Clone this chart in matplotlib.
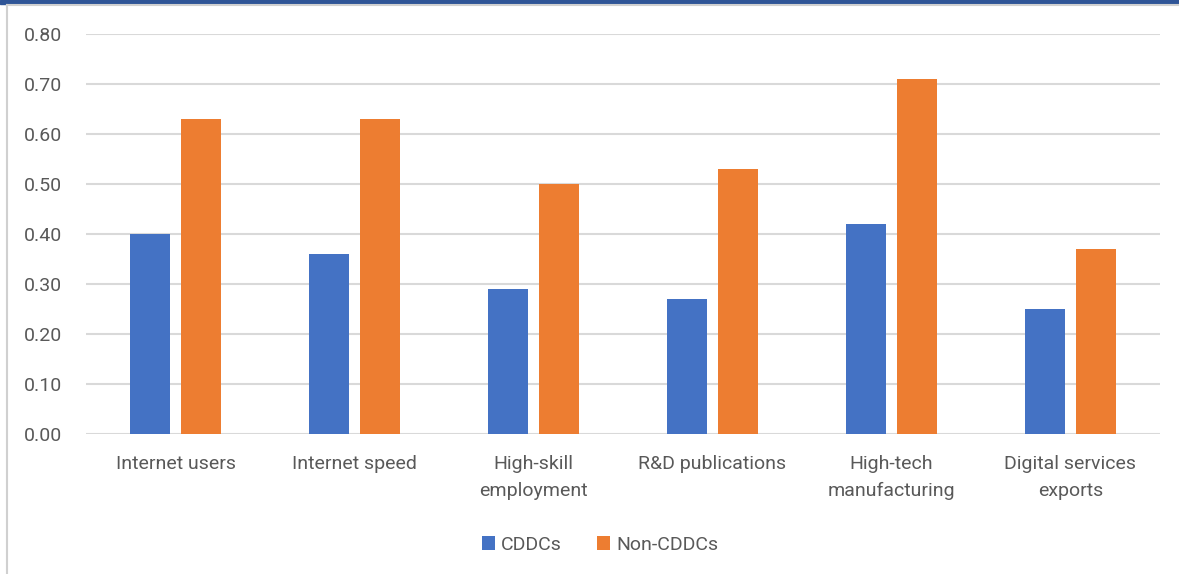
import numpy as np
import matplotlib
matplotlib.use("Agg")
from matplotlib import pyplot as plt
from matplotlib.patches import Rectangle
from matplotlib.lines import Line2D

categories = ["Internet users", "Internet speed", "High-skill\nemployment",
              "R&D publications", "High-tech\nmanufacturing", "Digital services\nexports"]
cddc = [0.40, 0.36, 0.29, 0.27, 0.42, 0.25]
non_cddc = [0.63, 0.63, 0.50, 0.53, 0.71, 0.37]
yticks = [0.0, 0.1, 0.2, 0.3, 0.4, 0.5, 0.6, 0.7, 0.8]

plt.rcParams['font.family'] = ['Roboto', 'DejaVu Sans']
txt = '#595959'

fig = plt.figure(figsize=(11.79, 5.74), dpi=100)
ax = fig.add_axes([86/1179, 140/574, (1160-86)/1179, 400/574])

x = np.arange(len(categories))
w = 0.2235
ax.bar(x - 0.142, cddc, w, color='#4472c4', label='CDDCs', zorder=3)
ax.bar(x + 0.142, non_cddc, w, color='#ed7d31', label='Non-CDDCs', zorder=3)

ax.set_xlim(-0.5, len(categories) - 0.5)
ax.set_ylim(0, 0.8)
ax.set_yticks(yticks)
ax.set_yticklabels([f"{v:.2f}" for v in yticks])
ax.set_xticks(x)
ax.set_xticklabels(categories, linespacing=1.65)
ax.tick_params(axis='both', length=0, colors=txt, labelsize=14)
ax.tick_params(axis='y', pad=17)
ax.tick_params(axis='x', pad=15)
ax.grid(axis='y', color='#d9d9d9', linewidth=1.5, zorder=0)
for s in ax.spines.values():
    s.set_visible(False)

ax.legend(loc='center', bbox_to_anchor=(600/1179, 1 - 545/574), bbox_transform=fig.transFigure,
          ncol=2, frameon=False, fontsize=14, labelcolor=txt, handlelength=0.7, handleheight=0.7,
          handletextpad=0.3, columnspacing=1.8)

# page frame bits
fig.patches.append(Rectangle((0, 1 - 4/574), 1, 4/574, transform=fig.transFigure,
                             color='#2f5597', zorder=0))
fig.lines.append(Line2D([7/1179, 7/1179], [0, 1 - 5/574], transform=fig.transFigure,
                        color='#d0d0d0', linewidth=1.5))
fig.lines.append(Line2D([7/1179, 1], [1 - 5/574, 1 - 5/574], transform=fig.transFigure,
                        color='#d0d0d0', linewidth=1.5))

fig.savefig("out.png", dpi=100)
